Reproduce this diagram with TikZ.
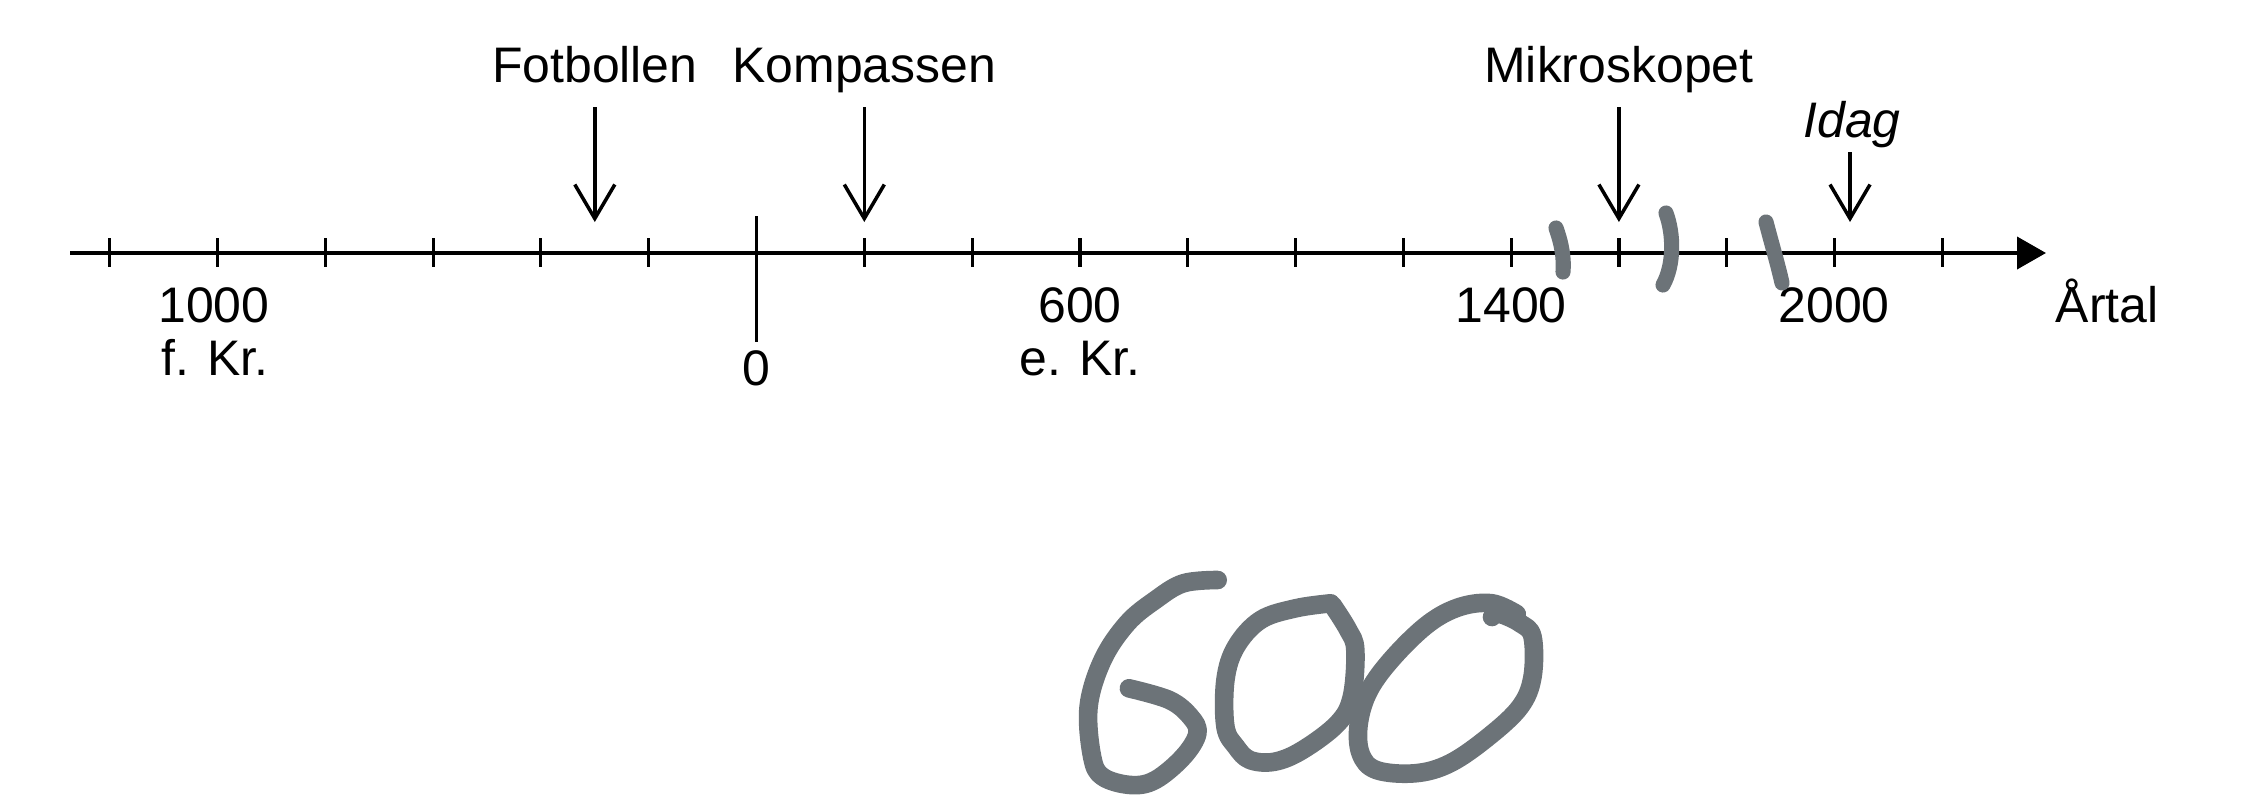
\documentclass[tikz,border=0pt]{standalone}
\usepackage{fontspec}
\setmainfont{Liberation Sans}
\usetikzlibrary{arrows.meta,calc}
\definecolor{pencil}{HTML}{6C7378}
\tikzset{axisline/.style={line width=1.1pt, -{Triangle[length=2.9mm, width=3.2mm]}},
  tickmark/.style={line width=0.9pt},
  evt/.style={line width=1pt, -{Straight Barb[length=3.4mm, width=4mm]}},
  lbl/.style={anchor=base, inner sep=0pt, font=\fontsize{14.2pt}{17pt}\selectfont},
  lblit/.style={lbl, font=\fontsize{14.2pt}{17pt}\selectfont\itshape},
  pen/.style={pencil, line width=4.3pt, line cap=round, line join=round},
  hand/.style={pencil, line width=5.3pt, line cap=round, line join=round}}

\begin{document}
\begin{tikzpicture}[x=0.01cm, y=-0.01cm]
  \useasboundingbox (0,0) rectangle (2246,800);
  % time axis
  \coordinate (a0) at (70,253);
  \coordinate (a1) at (2046,253);
  \draw[axisline] (a0) -- (a1);
  \foreach \yr in {-1200,-1000,...,2200}
    \draw[tickmark] ({756.5+0.539*\yr},238) -- ++(0,29);
  \draw[tickmark] (756.5,216) -- (756.5,342);
  % year labels
  \node[lbl] (y1000) at (214,322) {1000};
  \node[lbl] (fkr) at (215,375) {f. Kr.};
  \node[lbl] (y0) at (756.5,385) {0};
  \node[lbl] (y600) at (1080,322) {600};
  \node[lbl] (ekr) at (1080,375) {e. Kr.};
  \node[lbl] (y1400) at (1511,322) {1400};
  \node[lbl] (y2000) at (1834,322) {2000};
  \node[lbl] (artal) at (2107,322) {Årtal};
  % events
  \foreach \yr/\txt/\nm in {-300/Fotbollen/fot, 200/Kompassen/kom, 1600/Mikroskopet/mik} {
    \node[lbl] (\nm) at ({756.5+0.539*\yr},82) {\txt};
    \coordinate (\nm-top) at ({756.5+0.539*\yr},107);
    \coordinate (\nm-tip) at ({756.5+0.539*\yr},222);
    \draw[evt] (\nm-top) -- (\nm-tip);
  }
  \node[lblit] (idag) at (1852,137) {Idag};
  \coordinate (idag-top) at (1850,152);
  \coordinate (idag-tip) at (1850,222);
  \draw[evt] (idag-top) -- (idag-tip);
  % pencil marks
  \draw[pen] (1556,228) .. controls (1562,245) and (1564,258) .. (1563,272);
  \draw[pen] (1666,213) .. controls (1674,235) and (1674,265) .. (1663,285);
  \draw[pen] (1766,222) .. controls (1772,245) and (1778,265) .. (1782,283);
  % handwritten answer
  \draw[hand] plot[smooth, tension=0.6] coordinates {(1217.7,580) (1183.3,583.3) (1155.3,600)
    (1127.2,623.3) (1102.6,660) (1088.6,706.7) (1092.1,756.7) (1102.6,776.7) (1130.7,785)
    (1155.3,780) (1183.3,756.7) (1197.4,733.3) (1190.4,716.7) (1169.3,700) (1128.9,688.3)};
  \draw[hand] plot[smooth, tension=0.6] coordinates {(1330.7,603.3) (1295.6,608.3) (1260.5,620)
    (1236,646.7) (1225.4,680) (1225.4,726.7) (1236,746.7) (1250,760) (1274.6,761.7)
    (1302.6,750) (1337.7,723.3) (1351.8,696.7) (1355.3,650) (1348.2,630) (1332.5,605)};
  \draw[hand] plot[smooth, tension=0.6] coordinates {(1516.7,614) (1492.1,603.3) (1460.5,606.7)
    (1428.9,623.3) (1393.9,656.7) (1369.3,690) (1358.8,723.3) (1360.5,753.3) (1376.3,770)
    (1414.9,773.3) (1450,763.3) (1488.6,736.7) (1520.2,706.7) (1532.5,676.7) (1532.5,636.7)
    (1520.2,623.3) (1500,614) (1492,617)};
\end{tikzpicture}
\end{document}
